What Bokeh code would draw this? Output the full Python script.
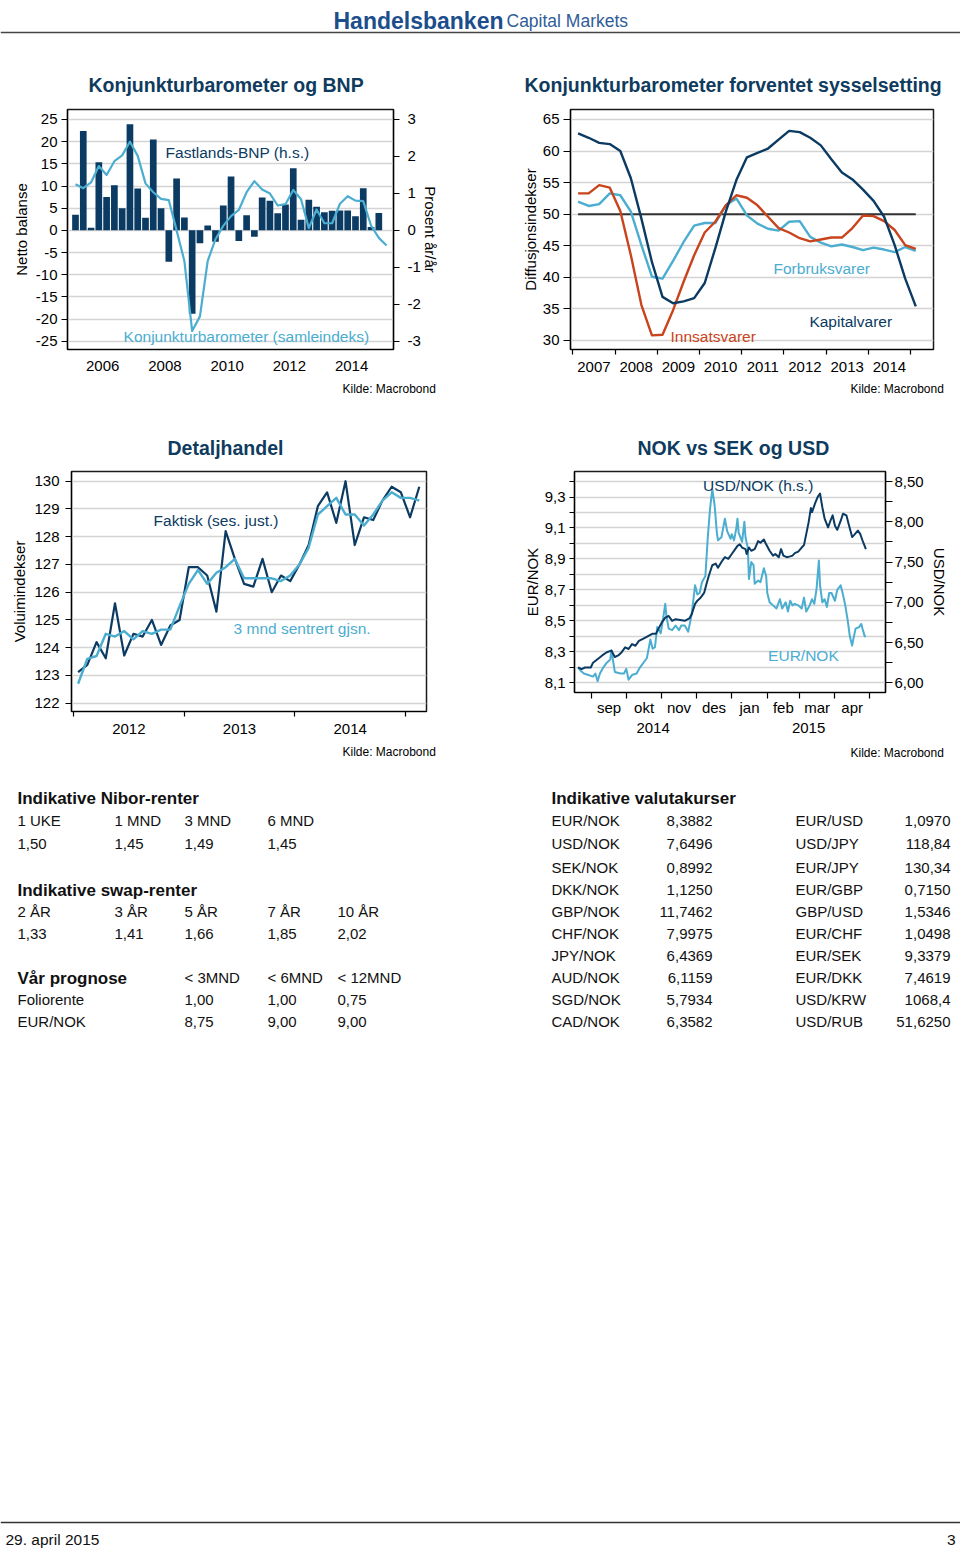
import pandas as pd
from bokeh.plotting import figure
from bokeh.models import Range1d, LinearAxis, FixedTicker, Title, Label, Span
from bokeh.layouts import column, row
from bokeh.embed import file_html
from bokeh.resources import INLINE
from bokeh.core.properties import value

# ------------------------------------------------------------------ data
# Chart 1: Konjunkturbarometer og BNP (quarterly)
bnp_period = ("2005Q1", "2014Q4")
bnp = [0.42, 2.69, 0.07, 1.84, 0.90, 1.22, 0.60, 2.87, 1.13, 0.34,
       2.46, 0.60, -0.85, 1.40, 0.35, -2.26, -0.35, 0.13, -0.31, 0.67,
       1.46, -0.29, 0.41, -0.17, 0.89, 0.80, 0.46, 0.70, 1.68, 0.29,
       0.83, 0.64, 0.49, 0.53, 0.54, 0.54, 0.38, 1.14, 0.09, 0.47]
konj_period = ("2005Q1", "2015Q1")
konj = [10.4, 9.5, 10.8, 14.5, 12.5, 15.6, 16.9, 20.0, 16.8, 10.6,
        8.6, 7.1, 6.8, 0.0, -6.9, -22.7, -19.4, -6.9, -2.0, 1.0,
        3.2, 4.6, 8.6, 11.1, 9.2, 8.3, 5.6, 5.9, 9.1, 7.0,
        0.5, 4.7, 1.6, 1.6, 6.0, 7.7, 6.7, 6.6, 1.1, -1.7, -3.4]
c1_left_ticks = [-25, -20, -15, -10, -5, 0, 5, 10, 15, 20, 25]
c1_right_ticks = [-3, -2, -1, 0, 1, 2, 3]
c1_x_ticks = [2006, 2008, 2010, 2012, 2014]

# Chart 2: forventet sysselsetting (quarterly)
sys_period = ("2007Q1", "2015Q1")
kapital = [62.8, 62.1, 61.3, 61.1, 60.0, 55.7, 49.3, 42.4, 36.9, 35.9,
           36.2, 36.7, 39.1, 44.6, 50.4, 55.4, 59.0, 59.7, 60.4, 61.8,
           63.2, 63.0, 62.1, 60.9, 58.7, 56.6, 55.5, 53.9, 52.1, 49.6,
           45.1, 39.8, 35.4]
innsats = [53.3, 53.3, 54.6, 54.2, 50.5, 43.5, 35.6, 30.8, 30.9, 34.8,
           39.3, 43.5, 47.1, 48.8, 51.4, 53.0, 52.6, 51.4, 49.6, 47.8,
           47.1, 46.2, 45.7, 46.0, 46.3, 46.3, 47.8, 49.8, 49.7, 48.9,
           47.5, 45.1, 44.5]
forbruk = [52.0, 51.3, 51.6, 53.3, 53.0, 50.4, 45.1, 40.1, 39.8, 42.6,
           45.6, 48.2, 48.6, 48.6, 51.4, 52.5, 49.8, 48.5, 47.7, 47.4,
           48.8, 48.9, 46.4, 45.5, 44.9, 45.2, 44.8, 44.3, 44.7, 44.4,
           44.0, 44.8, 44.2]
ref_level = 50
c2_y_ticks = [30, 35, 40, 45, 50, 55, 60, 65]
c2_years = [2007, 2008, 2009, 2010, 2011, 2012, 2013, 2014]

# Chart 3: Detaljhandel (monthly)
det_period = ("2012-01", "2015-02")
faktisk = [123.12, 123.38, 124.2, 123.62, 125.6, 123.72, 124.5, 124.4, 125.0, 124.1,
           124.8, 125.0, 126.9, 126.9, 126.6, 125.3, 128.2, 127.2, 126.3, 126.2,
           127.2, 126.0, 126.6, 126.4, 127.0, 127.7, 129.1, 129.6, 128.5, 130.0,
           127.7, 128.7, 128.6, 129.3, 129.8, 129.6, 128.7, 129.8]
snitt = [122.7, 123.6, 123.7, 124.5, 124.4, 124.6, 124.3, 124.6, 124.5, 124.65,
         124.65, 125.5, 126.3, 126.8, 126.3, 126.7, 126.9, 127.2, 126.5, 126.5,
         126.5, 126.5, 126.4, 126.6, 127.0, 127.6, 128.8, 129.1, 129.4, 128.8,
         128.8, 128.4, 128.8, 129.3, 129.6, 129.4, 129.4, 129.3]
c3_y_ticks = [122, 123, 124, 125, 126, 127, 128, 129, 130]
c3_years = [2012, 2013, 2014]

# Chart 4: NOK vs SEK og USD (daily)
eur_dates = ["2014-08-20", "2014-08-22", "2014-08-25", "2014-08-29", "2014-09-02", "2014-09-04",
             "2014-09-06", "2014-09-08", "2014-09-11", "2014-09-14", "2014-09-17", "2014-09-18",
             "2014-09-21", "2014-09-26", "2014-09-29", "2014-10-01", "2014-10-03", "2014-10-06",
             "2014-10-10", "2014-10-13", "2014-10-19", "2014-10-22", "2014-10-24", "2014-10-26",
             "2014-10-28", "2014-10-31", "2014-11-02", "2014-11-04", "2014-11-05", "2014-11-07",
             "2014-11-10", "2014-11-13", "2014-11-16", "2014-11-18", "2014-11-21", "2014-11-24",
             "2014-11-27", "2014-11-30", "2014-12-02", "2014-12-04", "2014-12-06", "2014-12-09",
             "2014-12-11", "2014-12-13", "2014-12-15", "2014-12-17", "2014-12-19", "2014-12-20",
             "2014-12-23", "2014-12-26", "2014-12-28", "2014-12-31", "2015-01-01", "2015-01-03",
             "2015-01-05", "2015-01-06", "2015-01-07", "2015-01-10", "2015-01-12", "2015-01-13",
             "2015-01-15", "2015-01-16", "2015-01-18", "2015-01-20", "2015-01-21", "2015-01-24",
             "2015-01-26", "2015-01-29", "2015-01-31", "2015-02-01", "2015-02-03", "2015-02-06",
             "2015-02-09", "2015-02-12", "2015-02-14", "2015-02-17", "2015-02-19", "2015-02-21",
             "2015-02-23", "2015-02-25", "2015-02-28", "2015-03-03", "2015-03-05", "2015-03-07",
             "2015-03-10", "2015-03-12", "2015-03-14", "2015-03-16", "2015-03-18", "2015-03-19",
             "2015-03-21", "2015-03-23", "2015-03-25", "2015-03-27", "2015-03-29", "2015-04-01",
             "2015-04-03", "2015-04-06", "2015-04-08", "2015-04-10", "2015-04-12", "2015-04-14",
             "2015-04-16", "2015-04-17", "2015-04-19", "2015-04-22", "2015-04-24", "2015-04-25",
             "2015-04-27", "2015-04-28"]
eur_vals = [8.20, 8.18, 8.16, 8.15, 8.14, 8.16, 8.11, 8.16, 8.20, 8.23,
            8.25, 8.31, 8.17, 8.16, 8.16, 8.19, 8.12, 8.15, 8.16, 8.20,
            8.26, 8.38, 8.32, 8.33, 8.46, 8.42, 8.51, 8.61, 8.53, 8.45,
            8.44, 8.47, 8.44, 8.47, 8.47, 8.43, 8.54, 8.73, 8.67, 8.68,
            8.75, 8.79, 9.03, 9.22, 9.35, 9.25, 9.07, 9.02, 9.04, 9.16,
            9.08, 9.03, 9.06, 9.02, 9.10, 9.16, 9.07, 9.01, 9.14, 9.04,
            8.97, 8.77, 8.88, 8.86, 8.74, 8.76, 8.75, 8.84, 8.79, 8.68,
            8.62, 8.60, 8.58, 8.64, 8.58, 8.62, 8.56, 8.63, 8.60, 8.61,
            8.60, 8.58, 8.65, 8.56, 8.60, 8.64, 8.61, 8.71, 8.89, 8.73,
            8.62, 8.64, 8.59, 8.68, 8.68, 8.63, 8.70, 8.73, 8.67, 8.60,
            8.51, 8.40, 8.34, 8.38, 8.45, 8.46, 8.48, 8.45, 8.40, 8.40]
usd_dates = ["2014-08-20", "2014-08-23", "2014-08-26", "2014-08-31", "2014-09-02", "2014-09-10",
             "2014-09-14", "2014-09-18", "2014-09-21", "2014-09-24", "2014-09-27", "2014-09-30",
             "2014-10-03", "2014-10-06", "2014-10-09", "2014-10-12", "2014-10-16", "2014-10-20",
             "2014-10-24", "2014-10-27", "2014-10-29", "2014-11-01", "2014-11-04", "2014-11-07",
             "2014-11-10", "2014-11-13", "2014-11-17", "2014-11-21", "2014-11-25", "2014-11-27",
             "2014-11-30", "2014-12-02", "2014-12-05", "2014-12-08", "2014-12-10", "2014-12-12",
             "2014-12-15", "2014-12-18", "2014-12-20", "2014-12-23", "2014-12-26", "2014-12-29",
             "2015-01-01", "2015-01-04", "2015-01-06", "2015-01-08", "2015-01-10", "2015-01-13",
             "2015-01-14", "2015-01-16", "2015-01-18", "2015-01-21", "2015-01-24", "2015-01-26",
             "2015-01-29", "2015-01-31", "2015-02-03", "2015-02-06", "2015-02-08", "2015-02-11",
             "2015-02-13", "2015-02-15", "2015-02-18", "2015-02-21", "2015-02-23", "2015-02-25",
             "2015-02-28", "2015-03-03", "2015-03-05", "2015-03-07", "2015-03-09", "2015-03-11",
             "2015-03-12", "2015-03-15", "2015-03-17", "2015-03-19", "2015-03-21", "2015-03-23",
             "2015-03-26", "2015-03-28", "2015-03-30", "2015-04-01", "2015-04-03", "2015-04-06",
             "2015-04-08", "2015-04-11", "2015-04-13", "2015-04-16", "2015-04-18", "2015-04-21",
             "2015-04-23", "2015-04-25", "2015-04-28"]
usd_vals = [6.19, 6.17, 6.19, 6.19, 6.25, 6.34, 6.38, 6.40, 6.32, 6.34,
            6.38, 6.44, 6.42, 6.48, 6.46, 6.52, 6.55, 6.58, 6.61, 6.61,
            6.67, 6.75, 6.81, 6.83, 6.77, 6.79, 6.78, 6.77, 6.80, 6.85,
            6.98, 7.02, 7.06, 7.12, 7.23, 7.33, 7.46, 7.48, 7.43, 7.50,
            7.56, 7.54, 7.60, 7.66, 7.70, 7.72, 7.68, 7.66, 7.60, 7.68,
            7.64, 7.66, 7.76, 7.74, 7.78, 7.72, 7.64, 7.58, 7.60, 7.56,
            7.66, 7.58, 7.56, 7.57, 7.58, 7.61, 7.63, 7.68, 7.71, 7.85,
            7.99, 8.17, 8.12, 8.24, 8.31, 8.35, 8.18, 8.04, 7.93, 8.01,
            8.08, 7.95, 7.90, 8.01, 8.10, 8.08, 7.97, 7.81, 7.84, 7.89,
            7.85, 7.77, 7.66]
c4_left_major = [8.1, 8.3, 8.5, 8.7, 8.9, 9.1, 9.3]
c4_left_minor = [8.2, 8.4, 8.6, 8.8, 9.0, 9.2, 9.4]
c4_right_major = [6.0, 6.5, 7.0, 7.5, 8.0, 8.5]
c4_right_minor = [6.25, 6.75, 7.25, 7.75, 8.25]
c4_month_starts = ["2014-09-01", "2014-10-01", "2014-11-01", "2014-12-01", "2015-01-01",
                   "2015-02-01", "2015-03-01", "2015-04-01", "2015-05-01"]
c4_month_labels = ["sep", "okt", "nov", "des", "jan", "feb", "mar", "apr"]
c4_year_labels = ["2014", "2015"]
c4_year_break = "2015-01-01"

# Tables
nibor_cols = ["1 UKE", "1 MND", "3 MND", "6 MND"]
nibor_vals = ["1,50", "1,45", "1,49", "1,45"]
swap_cols = ["2 ÅR", "3 ÅR", "5 ÅR", "7 ÅR", "10 ÅR"]
swap_vals = ["1,33", "1,41", "1,66", "1,85", "2,02"]
prog_cols = ["< 3MND", "< 6MND", "< 12MND"]
prog_rows = ["Foliorente", "EUR/NOK"]
prog_vals = [["1,00", "1,00", "0,75"], ["8,75", "9,00", "9,00"]]
fx_names_1 = ["EUR/NOK", "USD/NOK", "SEK/NOK", "DKK/NOK", "GBP/NOK",
              "CHF/NOK", "JPY/NOK", "AUD/NOK", "SGD/NOK", "CAD/NOK"]
fx_vals_1 = ["8,3882", "7,6496", "0,8992", "1,1250", "11,7462",
             "7,9975", "6,4369", "6,1159", "5,7934", "6,3582"]
fx_names_2 = ["EUR/USD", "USD/JPY", "EUR/JPY", "EUR/GBP", "GBP/USD",
              "EUR/CHF", "EUR/SEK", "EUR/DKK", "USD/KRW", "USD/RUB"]
fx_vals_2 = ["1,0970", "118,84", "130,34", "0,7150", "1,5346",
             "1,0498", "9,3379", "7,4619", "1068,4", "51,6250"]
source_text = "Kilde: Macrobond"

# ------------------------------------------------------------------ style
FONT = "Liberation Sans"
NAVY = "#0b3a62"
LIGHT = "#4badd0"
RED = "#c9431c"
TITLE_C = "#0f3b5e"
GRID = "#d4d4d4"


def qx(start, end):
    return [p.year + (p.quarter - 0.5) / 4 for p in pd.period_range(start, end, freq="Q")]


def mx(start, end):
    return [p.year + (p.month - 0.5) / 12 for p in pd.period_range(start, end, freq="M")]


def comma(v, d):
    return f"{v:.{d}f}".replace(".", ",")


def style_axis(ax, tick_out=6, standoff=4, label_standoff=3):
    ax.major_label_text_font = FONT
    ax.major_label_text_font_size = "15px"
    ax.major_label_text_color = "black"
    ax.axis_label_text_font = FONT
    ax.axis_label_text_font_size = "15px"
    ax.axis_label_text_font_style = "normal"
    ax.axis_label_text_color = "black"
    ax.axis_line_color = "black"
    ax.axis_line_width = 1.2
    ax.major_tick_line_color = "black"
    ax.minor_tick_line_color = "black"
    ax.major_tick_line_width = 1.2
    ax.minor_tick_line_width = 1.2
    ax.major_tick_in = 0
    ax.minor_tick_in = 0
    ax.major_tick_out = tick_out
    ax.minor_tick_out = 0
    ax.major_label_standoff = standoff
    ax.axis_label_standoff = label_standoff


def chart(w, h, xr, yr, bl, br, bt, bb, title, title_offset, title_standoff,
          kilde_offset, kilde_standoff):
    p = figure(width=w, height=h, x_range=xr, y_range=yr, output_backend="svg",
               toolbar_location=None, min_border_left=bl, min_border_right=br,
               min_border_top=bt, min_border_bottom=bb)
    p.outline_line_color = "#1a1a1a"
    p.outline_line_width = 1.5
    p.xgrid.visible = False
    p.ygrid.grid_line_color = GRID
    p.ygrid.grid_line_width = 1.5
    p.background_fill_color = "white"
    p.border_fill_color = "white"
    p.title.text = title
    p.title.align = "left"
    p.title.offset = title_offset
    p.title.text_font = FONT
    p.title.text_font_size = "19.5px"
    p.title.text_font_style = "bold"
    p.title.text_color = TITLE_C
    p.title.standoff = title_standoff
    p.add_layout(Title(text=source_text, align="left", offset=kilde_offset,
                       text_font=FONT, text_font_size="12px", text_font_style="normal",
                       text_color="black", standoff=kilde_standoff), "below")
    return p


def series_label(p, x, y, text, color, **kw):
    p.add_layout(Label(x=x, y=y, text=text, text_font=FONT, text_font_size="15.5px",
                       text_color=color, text_baseline="middle", text_align="left", **kw))


# ------------------------------------------------------------------ chart 1
c1_ratio = c1_right_ticks[-1] / c1_left_ticks[-1]
p1 = chart(480, 357, Range1d(2004.868, 2015.347), Range1d(-26.87, 27.255),
           67, 87, 61, 56, "Konjunkturbarometer og BNP", 21, 28, 275, 12)
p1.extra_y_ranges = {"pct": Range1d(-26.87 * c1_ratio, 27.255 * c1_ratio)}
yl = p1.yaxis[0]
yl.ticker = FixedTicker(ticks=c1_left_ticks)
yl.major_label_overrides = {t: str(t) for t in c1_left_ticks}
yl.axis_label = "Netto balanse"
style_axis(yl, 6, 4, 3)
xa = p1.xaxis[0]
xa.ticker = FixedTicker(ticks=c1_x_ticks)
xa.major_label_overrides = {t: str(t) for t in c1_x_ticks}
style_axis(xa, 0, 11, 0)
yr = LinearAxis(y_range_name="pct", ticker=FixedTicker(ticks=c1_right_ticks),
                axis_label="Prosent år/år")
yr.major_label_overrides = {t: str(t) for t in c1_right_ticks}
style_axis(yr, 6, 8, -2)
p1.add_layout(yr, "right")

p1.vbar(x=qx(*bnp_period), top=bnp, bottom=0, width=0.215, y_range_name="pct",
        fill_color=NAVY, line_color=None)
p1.line(qx(*konj_period), konj, line_color=LIGHT, line_width=2.2, line_join="round")
series_label(p1, 2008.02, 17.5, "Fastlands-BNP (h.s.)", NAVY)
series_label(p1, 2006.67, -24.0, "Konjunkturbarometer (samleindeks)", LIGHT)

# ------------------------------------------------------------------ chart 2
p2 = chart(480, 357, Range1d(2006.945, 2015.545), Range1d(28.57, 66.58),
           90, 27, 61, 56, "Konjunkturbarometer forventet sysselsetting", -46, 28, 280, 10)
yl = p2.yaxis[0]
yl.ticker = FixedTicker(ticks=c2_y_ticks)
yl.major_label_overrides = {t: str(t) for t in c2_y_ticks}
yl.axis_label = "Diffusjonsindekser"
style_axis(yl, 7, 4, 1)
xa = p2.xaxis[0]
xa.ticker = FixedTicker(ticks=[y + 0.5 for y in c2_years],
                        minor_ticks=c2_years + [c2_years[-1] + 1])
xa.major_label_overrides = {y + 0.5: str(y) for y in c2_years}
style_axis(xa, 0, 7, 0)
xa.minor_tick_out = 5
x2 = qx(*sys_period)
p2.line([x2[0], x2[-1]], [ref_level, ref_level], line_color="#333333", line_width=2)
p2.line(x2, forbruk, line_color=LIGHT, line_width=2.4, line_join="round")
p2.line(x2, innsats, line_color=RED, line_width=2.4, line_join="round")
p2.line(x2, kapital, line_color=NAVY, line_width=2.4, line_join="round")
series_label(p2, 2011.755, 41.44, "Forbruksvarer", LIGHT)
series_label(p2, 2012.605, 33.04, "Kapitalvarer", NAVY)
series_label(p2, 2009.315, 30.67, "Innsatsvarer", RED)

# ------------------------------------------------------------------ chart 3
# taller canvas with the same bottom border as chart 4, so both frames keep their own heights
p3 = chart(480, 382, Range1d(2011.982, 2015.190), Range1d(121.70, 130.35),
           71, 54, 66, 76, "Detaljhandel", 96, 25, 271, 12)
yl = p3.yaxis[0]
yl.ticker = FixedTicker(ticks=c3_y_ticks)
yl.major_label_overrides = {t: str(t) for t in c3_y_ticks}
yl.axis_label = "Voluimindekser"
style_axis(yl, 6, 6, 3)
xa = p3.xaxis[0]
xa.ticker = FixedTicker(ticks=[y + 0.5 for y in c3_years],
                        minor_ticks=c3_years + [c3_years[-1] + 1])
xa.major_label_overrides = {y + 0.5: str(y) for y in c3_years}
style_axis(xa, 0, 7, 0)
xa.minor_tick_out = 5
x3 = mx(*det_period)
p3.line(x3, faktisk, line_color=NAVY, line_width=2.2, line_join="round")
p3.line(x3, snitt, line_color=LIGHT, line_width=2.4, line_join="round")
series_label(p3, 2012.7235, 128.58, "Faktisk (ses. just.)", NAVY)
series_label(p3, 2013.447, 124.69, "3 mnd sentrert gjsn.", LIGHT)

# ------------------------------------------------------------------ chart 4
base = pd.Timestamp(c4_month_starts[0])


def days(ds):
    return [(pd.Timestamp(d) - base).days for d in ds]


ms = days(c4_month_starts)
mids = [(a + b) / 2 for a, b in zip(ms[:-1], ms[1:])]
x4_start, x4_end = -15.17, 256.1
yb = days([c4_year_break])[0]
year_pos = [(x4_start + yb) / 2, (yb + x4_end) / 2]

p4 = chart(480, 363, Range1d(x4_start, x4_end), Range1d(8.0373, 9.4647),
           94, 75, 66, 76, "NOK vs SEK og USD", 63, 25, 276, 16)
p4.extra_y_ranges = {"usd": Range1d(5.8794, 8.6244)}
yl = p4.yaxis[0]
yl.ticker = FixedTicker(ticks=c4_left_major, minor_ticks=c4_left_minor)
yl.major_label_overrides = {t: comma(t, 1) for t in c4_left_major}
yl.axis_label = "EUR/NOK"
style_axis(yl, 5, 4, 1)
yl.minor_tick_out = 5
p4.ygrid.minor_grid_line_color = GRID
p4.ygrid.minor_grid_line_width = 1.5
xa = p4.xaxis[0]
xa.ticker = FixedTicker(ticks=mids, minor_ticks=ms)
xa.major_label_overrides = {m: lab for m, lab in zip(mids, c4_month_labels)}
style_axis(xa, 0, 0, 0)
xa.minor_tick_out = 6
ya = LinearAxis(ticker=FixedTicker(ticks=year_pos))
ya.major_label_overrides = {m: lab for m, lab in zip(year_pos, c4_year_labels)}
style_axis(ya, 0, 4, 0)
ya.axis_line_color = None
ya.major_tick_line_color = None
ya.minor_tick_line_color = None
p4.below.insert(1, ya)
yr = LinearAxis(y_range_name="usd", ticker=FixedTicker(ticks=c4_right_major, minor_ticks=c4_right_minor),
                axis_label="USD/NOK")
yr.major_label_overrides = {t: comma(t, 2) for t in c4_right_major}
style_axis(yr, 7, 2, 4)
yr.minor_tick_out = 7
p4.add_layout(yr, "right")

p4.line(days(eur_dates), eur_vals, line_color=LIGHT, line_width=2.0, line_join="round")
p4.line(days(usd_dates), usd_vals, line_color=NAVY, line_width=2.0, line_join="round",
        y_range_name="usd")
series_label(p4, 97.0, 9.374, "USD/NOK (h.s.)", NAVY)
series_label(p4, 153.7, 8.276, "EUR/NOK", LIGHT)


# ------------------------------------------------------------------ text panels
def text_fig(h, y_top, y_bottom):
    p = figure(width=960, height=h, x_range=Range1d(0, 960), y_range=Range1d(y_bottom, y_top),
               x_axis_type=None, y_axis_type=None, output_backend="svg",
               toolbar_location=None, min_border=0)
    p.outline_line_color = None
    p.background_fill_color = "white"
    p.border_fill_color = "white"
    return p


def txt(p, xs, ys, texts, size="15px", bold=False, align="left", color="#111111",
        baseline="middle"):
    p.text(x=xs, y=ys, text=texts, text_font=value(FONT), text_font_size=size,
           text_font_style="bold" if bold else "normal", text_align=align,
           text_baseline=baseline, text_color=color)


hdr = text_fig(48, 0, 48)
txt(hdr, [333], [20], ["Handelsbanken"], size="23px", bold=True, color="#1c4e8c",
    baseline="alphabetic")
txt(hdr, [506], [20], ["Capital Markets"], size="17.5px", color="#2f5d97",
    baseline="alphabetic")
hdr.add_layout(Span(location=32, dimension="width", line_color="#444444", line_width=1.5))

tab = text_fig(258, 787, 1045)
colx = [17, 114, 184, 267, 337]
txt(tab, [17], [798], ["Indikative Nibor-renter"], size="17px", bold=True)
txt(tab, colx[:4], [820] * 4, nibor_cols)
txt(tab, colx[:4], [843] * 4, nibor_vals)
txt(tab, [17], [890], ["Indikative swap-renter"], size="17px", bold=True)
txt(tab, colx, [911] * 5, swap_cols)
txt(tab, colx, [933] * 5, swap_vals)
txt(tab, [17], [978], ["Vår prognose"], size="17px", bold=True)
txt(tab, colx[2:], [977] * 3, prog_cols)
for r, (name, vals) in enumerate(zip(prog_rows, prog_vals)):
    yy = 999 + 22 * r
    txt(tab, [17], [yy], [name])
    txt(tab, colx[2:], [yy] * 3, vals)
fx_y = [820, 843, 867, 889, 911, 933, 955, 977, 999, 1021]
txt(tab, [551], [798], ["Indikative valutakurser"], size="17px", bold=True)
txt(tab, [551] * 10, fx_y, fx_names_1)
txt(tab, [712] * 10, fx_y, fx_vals_1, align="right")
txt(tab, [795] * 10, fx_y, fx_names_2)
txt(tab, [950] * 10, fx_y, fx_vals_2, align="right")

foot = text_fig(504, 1045, 1549)
foot.add_layout(Span(location=1522, dimension="width", line_color="#333333", line_width=1.3))
txt(foot, [5], [1539], ["29. april 2015"], size="15.5px")
txt(foot, [955], [1539], ["3"], size="15.5px", align="right")

layout = column(hdr, row(p1, p2), row(p3, p4), tab, foot)
open("out.html", "w").write(file_html(layout, INLINE))
